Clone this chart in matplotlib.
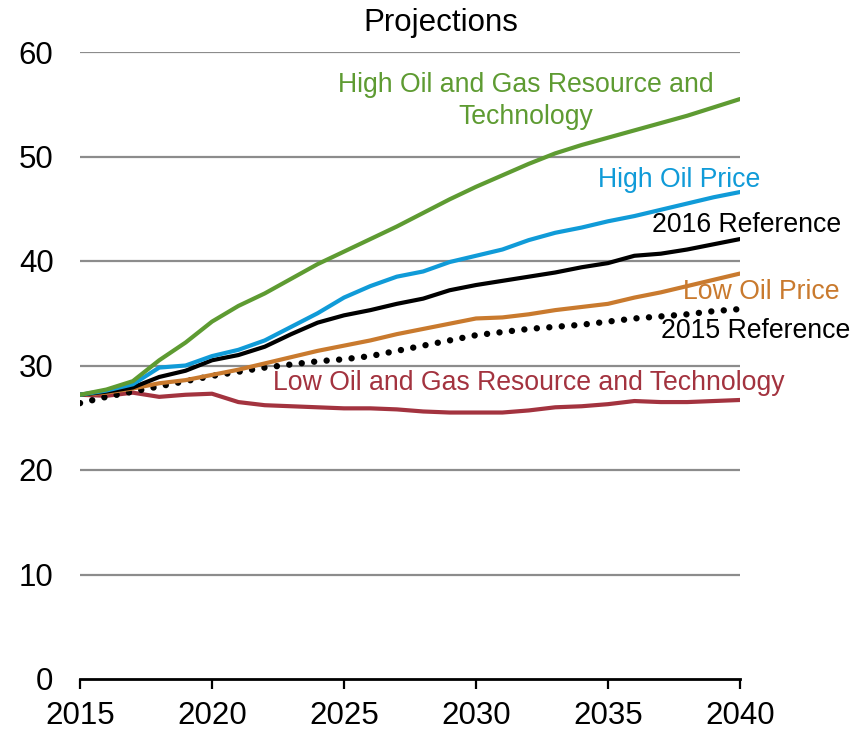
import matplotlib
matplotlib.use("Agg")
import matplotlib.pyplot as plt

plt.rcParams['font.family'] = ['Liberation Sans', 'DejaVu Sans']

years = list(range(2015, 2041))

high_og = [27.2, 27.7, 28.5, 30.5, 32.2, 34.2, 35.7, 36.9, 38.3, 39.7, 40.9, 42.1, 43.3,
           44.6, 45.9, 47.1, 48.2, 49.3, 50.3, 51.1, 51.8, 52.5, 53.2, 53.9, 54.7, 55.5]
high_price = [27.2, 27.6, 28.2, 29.8, 30.0, 30.9, 31.5, 32.4, 33.7, 35.0, 36.5, 37.6, 38.5,
              39.0, 39.9, 40.5, 41.1, 42.0, 42.7, 43.2, 43.8, 44.3, 44.9, 45.5, 46.1, 46.6]
ref2016 = [27.2, 27.5, 27.9, 28.9, 29.5, 30.5, 31.0, 31.8, 33.0, 34.1, 34.8, 35.3, 35.9,
           36.4, 37.2, 37.7, 38.1, 38.5, 38.9, 39.4, 39.8, 40.5, 40.7, 41.1, 41.6, 42.1]
low_price = [27.2, 27.4, 27.8, 28.3, 28.6, 29.1, 29.6, 30.2, 30.8, 31.4, 31.9, 32.4, 33.0,
             33.5, 34.0, 34.5, 34.6, 34.9, 35.3, 35.6, 35.9, 36.5, 37.0, 37.6, 38.2, 38.8]
ref2015 = [26.4, 27.0, 27.5, 28.0, 28.5, 29.0, 29.4, 29.8, 30.1, 30.4, 30.6, 30.9, 31.4,
           31.9, 32.4, 32.9, 33.2, 33.5, 33.7, 33.9, 34.2, 34.5, 34.7, 34.9, 35.2, 35.4]
low_og = [27.2, 27.1, 27.4, 27.0, 27.2, 27.3, 26.5, 26.2, 26.1, 26.0, 25.9, 25.9, 25.8,
          25.6, 25.5, 25.5, 25.5, 25.7, 26.0, 26.1, 26.3, 26.6, 26.5, 26.5, 26.6, 26.7]

x_ticks = [2015, 2020, 2025, 2030, 2035, 2040]
y_ticks = [0, 10, 20, 30, 40, 50, 60]

c_green = '#5e9b32'
c_blue = '#109bd8'
c_black = '#000000'
c_orange = '#c97a2e'
c_red = '#a3333f'

fig = plt.figure(figsize=(8.64, 7.31), dpi=100)
ax = fig.add_axes([80/864, 1-679/731, 660/864, (679-52)/731])

for yv in y_ticks[1:]:
    ax.axhline(yv, color='#8c8c8c', lw=1.6, zorder=1)

lw = 3.0
ax.plot(years, low_og, color=c_red, lw=lw, zorder=3, solid_capstyle='round')
ax.plot(years, ref2015, color=c_black, lw=4.6, zorder=3,
        linestyle=(0, (0.01, 1.95)), dash_capstyle='round')
ax.plot(years, low_price, color=c_orange, lw=lw, zorder=3, solid_capstyle='round')
ax.plot(years, ref2016, color=c_black, lw=lw, zorder=3, solid_capstyle='round')
ax.plot(years, high_price, color=c_blue, lw=lw, zorder=3, solid_capstyle='round')
ax.plot(years, high_og, color=c_green, lw=lw, zorder=3, solid_capstyle='round')

ax.set_xlim(2015, 2040)
ax.set_ylim(0, 60)
ax.set_xticks(x_ticks)
ax.set_yticks(y_ticks)
ax.set_xticklabels([str(v) for v in x_ticks])
ax.set_yticklabels([str(v) for v in y_ticks])

for s in ['top', 'right', 'left']:
    ax.spines[s].set_visible(False)
ax.spines['bottom'].set_linewidth(2.0)
ax.spines['bottom'].set_color('black')
ax.spines['bottom'].set_zorder(4)
ax.tick_params(axis='x', direction='out', length=7, width=1.6, labelsize=22.5, pad=9)
ax.tick_params(axis='y', length=0, labelsize=22.5, pad=19)

fs = 19.2
def ftxt(px, py, s, color, ha='left', ls=1.12):
    fig.text(px/864, 1-py/731, s, color=color, fontsize=fs, ha=ha, va='center',
             linespacing=ls)

fig.text(441/864, 1-23/731, 'Projections', fontsize=22.5, ha='center', va='center')
ftxt(526, 101, 'High Oil and Gas Resource and\nTechnology', c_green, ha='center', ls=1.32)
ftxt(598, 180, 'High Oil Price', c_blue)
ftxt(652, 225, '2016 Reference', c_black)
ftxt(683, 292, 'Low Oil Price', c_orange)
ftxt(661, 331, '2015 Reference', c_black)
ftxt(273, 383, 'Low Oil and Gas Resource and Technology', c_red)

fig.savefig('out.png', dpi=100)
